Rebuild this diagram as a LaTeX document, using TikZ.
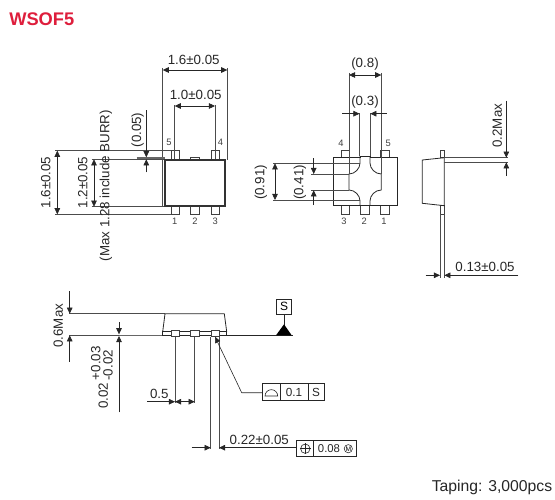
\documentclass[tikz,border=0pt]{standalone}
\usepackage{fontspec}
\setmainfont{Liberation Sans}
\usetikzlibrary{arrows.meta}
\definecolor{wsofred}{RGB}{222,30,60}
\tikzstyle{part} = [draw=black!85, line width=0.6pt]
\tikzstyle{lead} = [draw=black!75, line width=0.5pt, fill=white]
\tikzstyle{extline} = [draw=black!70, line width=0.45pt]
\tikzstyle{arrow} = [draw=black!85, line width=0.45pt, {Triangle[length=4.6pt,width=4.2pt]}-{Triangle[length=4.6pt,width=4.2pt]}]
\tikzstyle{tip} = [draw=black!85, line width=0.45pt, -{Triangle[length=4.6pt,width=4.2pt]}]
\tikzstyle{dimtext} = [inner sep=0pt, font=\fontsize{10}{12}\selectfont, text=black!85]
\tikzstyle{dimup} = [dimtext, rotate=90]
\tikzstyle{pin} = [inner sep=0pt, font=\fontsize{7}{8}\selectfont, text=black!75]
\tikzstyle{framebox} = [draw=black!85, line width=0.5pt, fill=white]
\begin{document}
\begin{tikzpicture}[x=0.75pt, y=-0.75pt]
	\useasboundingbox (0,0) rectangle (555,499);
	% Texts
	\node (title) [anchor=base west, inner sep=0pt, text=wsofred, font=\fontsize{13.7}{16}\selectfont\bfseries] at (9,25.5) {WSOF5};
	\node (taping) [anchor=base east, inner sep=0pt, font=\fontsize{11.8}{14}\selectfont, text=black!85] at (552.5,491) {Taping: 3,000pcs};
	% Top view
	\draw [extline] (162.7,68) -- (162.7,207);
	\draw [extline] (227.3,68) -- (227.3,160);
	\draw [extline] (55,150.7) -- (172,150.7);
	\draw [extline] (55,214.3) -- (171,214.3);
	\draw [extline] (91.7,159.3) -- (165,159.3);
	\draw [extline] (91.7,206.7) -- (165,206.7);
	\draw [draw=black!60, line width=0.9pt] (136.7,158) -- (165,158);
	\draw [lead] (171,150) rectangle (179,160);
	\draw [lead] (211,150) rectangle (219.3,160);
	\draw [lead] (190.7,157) rectangle (199,160);
	\draw [lead] (171,206) rectangle (179,214.3);
	\draw [lead] (190.7,206) rectangle (199,214.3);
	\draw [lead] (211,206) rectangle (219.3,214.3);
	\draw [extline] (174.7,105) -- (174.7,160);
	\draw [extline] (215,105) -- (215,160);
	\draw [part, draw=black!80, line width=0.8pt] (165,160) rectangle (225,206);
	\node (pinfive) [pin] at (169,142) {5};
	\node (pinfour) [pin] at (220.5,142) {4};
	\node (pinone) [pin] at (174.7,221) {1};
	\node (pintwo) [pin] at (195,221) {2};
	\node (pinthree) [pin] at (215.3,221) {3};
	\node (widthtop) [dimtext] at (193.7,60) {1.6±0.05};
	\node (pitchtop) [dimtext] at (195.7,95.3) {1.0±0.05};
	\node (lengthtop) [dimup] at (45.7,182.5) {1.6±0.05};
	\node (bodytop) [dimup] at (82.7,182.5) {1.2±0.05};
	\node (burr) [dimup] at (106,185.5) {(Max 1.28 include BURR)};
	\node (gaptop) [dimup] at (137.7,130) {(0.05)};
	\draw [arrow] (162.7,70) -- (227.3,70);
	\draw [arrow] (174.7,106) -- (215,106);
	\draw [arrow] (57.3,150.7) -- (57.3,214.3);
	\draw [arrow] (94,159.3) -- (94,206.7);
	\draw [tip] (146.3,110) -- (146.3,157.3);
	\draw [tip] (146.3,172.3) -- (146.3,159.3);
	% Bottom view
	\draw [lead] (341,150) rectangle (349.3,157.7);
	\draw [lead] (380.7,150) rectangle (389.3,157.7);
	\draw [lead] (341,205.7) rectangle (349.3,214);
	\draw [lead] (360.5,205.7) rectangle (369.5,214);
	\draw [lead] (380.7,205.7) rectangle (389.3,214);
	\draw [part] (333,157.7) rectangle (397,205.7);
	\draw [part, fill=white] (360,157.7) -- (360,156) -- (370,156) -- (370,157.7);
	\draw [part] (360,156) -- (360,163) .. controls (360,168.5) and (355,174) .. (349,174) -- (349,190) .. controls (355,190) and (360,195.5) .. (360,201) -- (360,205.7);
	\draw [part] (370,156) -- (370,163) .. controls (370,168.5) and (375,174) .. (381.3,174) -- (381.3,190) .. controls (375,190) and (370,195.5) .. (370,201) -- (370,205.7);
	\draw [extline] (349,73) -- (349,174);
	\draw [extline] (381.3,73) -- (381.3,174);
	\draw [extline] (359.5,113) -- (359.5,156);
	\draw [extline] (370.3,113) -- (370.3,156);
	\draw [extline] (273,163.3) -- (360,163.3);
	\draw [extline] (273,200) -- (360,200);
	\draw [extline] (311,174) -- (349,174);
	\draw [extline] (311,190.3) -- (349,190.3);
	\node (pinfourb) [pin] at (341,143.7) {4};
	\node (pinfiveb) [pin] at (388.3,143.7) {5};
	\node (pinthreeb) [pin] at (344,221.3) {3};
	\node (pintwob) [pin] at (364.3,221.3) {2};
	\node (pinoneb) [pin] at (384,221.3) {1};
	\node (padwide) [dimtext] at (365,63.7) {(0.8)};
	\node (padgap) [dimtext] at (365,102.3) {(0.3)};
	\node (padhigh) [dimup] at (261,182.5) {(0.91)};
	\node (padneck) [dimup] at (300,182.5) {(0.41)};
	\draw [arrow] (349,75) -- (381.3,75);
	\draw [tip] (342.3,113.7) -- (359.5,113.7);
	\draw [tip] (386.7,113.7) -- (370.3,113.7);
	\draw [arrow] (275,163.3) -- (275,200);
	\draw [tip] (313.7,158.3) -- (313.7,174);
	\draw [tip] (313.7,205) -- (313.7,190.3);
	% Side view
	\draw [lead] (440,150) rectangle (444.3,157.7);
	\draw [lead] (440,205.7) rectangle (444.3,214);
	\draw [part] (422.3,160) -- (444.3,157.7) -- (444.3,205.7) -- (422.3,203.3) -- cycle;
	\draw [extline] (444.3,157.7) -- (508,157.7);
	\draw [extline] (444.3,162.3) -- (508,162.3);
	\draw [extline] (440,214) -- (440,278);
	\draw [extline] (444.3,214) -- (444.3,278);
	\node (standoff) [dimup] at (497.3,125.7) {0.2Max};
	\node (thick) [dimtext] at (485,266.7) {0.13±0.05};
	\draw [tip] (506.3,100.7) -- (506.3,157.7);
	\draw [tip] (506.3,176) -- (506.3,162.3);
	\draw [tip] (425.7,275.3) -- (440,275.3);
	\draw [tip] (518.3,275.3) -- (444.3,275.3);
	% Front view
	\draw [extline] (69.3,313.7) -- (165,313.7);
	\draw [extline] (69.3,335.3) -- (119,335.3);
	\draw [draw=black!60, line width=0.9pt] (119,335.3) -- (162.7,335.3);
	\draw [part] (226.7,335.3) -- (293.3,335.3);
	\draw [part] (162.7,331.7) -- (165,313.7) -- (224.3,313.7) -- (226.7,331.7);
	\draw [part] (162.7,331.7) rectangle (226.7,335.3);
	\draw [lead] (171,330.5) rectangle (179,336.7);
	\draw [lead] (190.7,330.5) rectangle (199,336.7);
	\draw [lead] (211,330.5) rectangle (219.3,336.7);
	\draw [extline] (175,336.7) -- (175,403.3);
	\draw [extline] (194.7,336.7) -- (194.7,403.3);
	\draw [extline] (210.7,336.7) -- (210.7,449.3);
	\draw [extline] (219,336.7) -- (219,449.3);
	\node (seated) [dimup] at (58.3,325.7) {0.6Max};
	\node (gapnom) [dimup] at (103.3,396) {0.02};
	\node (gapplus) [dimup] at (95.7,363.3) {+0.03};
	\node (gapminus) [dimup] at (108,365.3) {-0.02};
	\node (pitch) [dimtext] at (159.3,394) {0.5};
	\node (leadwide) [dimtext] at (259.3,439.7) {0.22±0.05};
	\draw [tip] (69.7,291) -- (69.7,313.7);
	\draw [tip] (69.7,361.7) -- (69.7,335.3);
	\draw [tip] (119,322.3) -- (119,334.3);
	\draw [tip] (119,412.3) -- (119,336);
	\draw [tip] (147.3,401.7) -- (175,401.7);
	\draw [arrow] (175,401.7) -- (194.7,401.7);
	\draw [tip] (191.7,447.7) -- (210.7,447.7);
	\draw [tip] (296.7,447.7) -- (219,447.7);
	% Datum S
	\node (datum) [framebox, minimum width=11.25pt, minimum height=11.25pt, inner sep=0pt, font=\fontsize{9}{10}\selectfont] at (284,306.5) {S};
	\draw [part] (datum) -- (284,326);
	\draw [draw=none, fill=black] (284,324.3) -- (291.7,335.3) -- (276,335.3) -- cycle;
	% Profile frame
	\draw [framebox] (262.7,383.7) rectangle (324.3,400.3);
	\draw [part] (280,383.7) -- (280,400.3);
	\draw [part] (308,383.7) -- (308,400.3);
	\draw [part, line width=0.45pt] (265,396) -- (277.7,396) arc[start angle=0, end angle=-180, radius=6.35] -- cycle;
	\node (profval) [dimtext, font=\fontsize{8.8}{10}\selectfont] at (294,392.5) {0.1};
	\node (profdatum) [dimtext, font=\fontsize{8.8}{10}\selectfont] at (316,392.5) {S};
	\draw [tip] (262.7,392.7) -- (241.7,392.7) -- (215,336.7);
	% Position frame
	\draw [framebox] (296.7,440) rectangle (356.7,456);
	\draw [part] (313.7,440) -- (313.7,456);
	\draw [part, line width=0.45pt] (305.3,448.7) circle (4.7);
	\draw [part, line width=0.45pt] (300,448.7) -- (310.6,448.7);
	\draw [part, line width=0.45pt] (305.3,443.3) -- (305.3,454);
	\node (posval) [inner sep=0pt, font=\fontsize{8.5}{10}\selectfont, text=black!85] at (329,448.5) {0.08};
	\node (posmmc) [draw=black!85, circle, line width=0.4pt, minimum size=6.2pt, inner sep=0pt, font=\fontsize{5}{6}\selectfont] at (348.3,448.7) {M};
\end{tikzpicture}
\end{document}
